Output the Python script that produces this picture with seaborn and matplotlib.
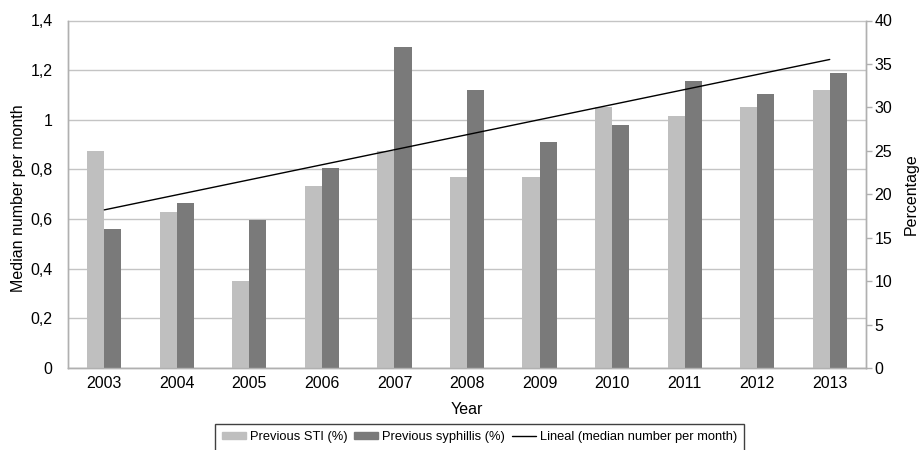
import numpy as np
import pandas as pd
import matplotlib
matplotlib.use("Agg")
import matplotlib.pyplot as plt
import seaborn as sb
from matplotlib.ticker import FuncFormatter, MultipleLocator
from matplotlib.patches import Patch, Rectangle
from matplotlib.lines import Line2D

# data
years = ['2003', '2004', '2005', '2006', '2007', '2008', '2009', '2010', '2011', '2012', '2013']
prev_sti = [25, 18, 10, 21, 25, 22, 22, 30, 29, 30, 32]
prev_syph = [16, 19, 17, 23, 37, 32, 26, 28, 33, 31.5, 34]
# linear trend of median number per month, endpoints
trend_years = ['2003', '2013']
trend_values = [0.637, 1.243]

light = '#bfbfbf'
dark = '#7a7a7a'
labels = ['Previous STI (%)', 'Previous syphillis (%)', 'Lineal (median number per month)']

sb.set_style("white")
plt.rcParams['font.family'] = ['Liberation Sans', 'DejaVu Sans']
plt.rcParams['text.color'] = 'black'
plt.rcParams['axes.labelcolor'] = 'black'
plt.rcParams['xtick.labelcolor'] = 'black'
plt.rcParams['ytick.labelcolor'] = 'black'

df = pd.DataFrame({
    'Year': years * 2,
    'Percentage': prev_sti + prev_syph,
    'Series': [labels[0]] * len(years) + [labels[1]] * len(years),
})

fig = plt.figure(figsize=(9.19, 4.5), dpi=100)
ax = fig.add_axes([68 / 919, 82 / 450, 798 / 919, 347.5 / 450])
ax2 = ax.twinx()
ax3 = ax.twinx()

#left axis: ticks and gridlines (behind the bars)
ax.set_ylim(0, 1.4)
ax.set_xlim(-0.5, len(years) - 0.5)
ax.yaxis.set_major_locator(MultipleLocator(0.2))
ax.yaxis.set_major_formatter(FuncFormatter(lambda v, p: ('%g' % round(v, 1)).replace('.', ',')))
ax.grid(axis='y', color='#c4c4c4', linewidth=1)
ax.set_ylabel('Median number per month', fontsize=11.5)
ax.yaxis.set_label_coords(-0.053, 0.49)
ax.set_xlabel('Year', fontsize=11.5, labelpad=8)
ax.set_xticks(range(len(years)))
ax.set_xticklabels(years)
ax.tick_params(axis='y', length=0, pad=11, labelsize=11.5, labelcolor='black')
ax.tick_params(axis='x', length=0, pad=6, labelsize=11.5, labelcolor='black')

#bars on the right axis
sb.barplot(data=df, x='Year', y='Percentage', hue='Series', palette=[light, dark],
           width=0.47, saturation=1, edgecolor='none', linewidth=0, ax=ax2, legend=False)
ax2.set_ylim(0, 40)
ax2.set_xlim(-0.5, len(years) - 0.5)
ax2.yaxis.set_major_locator(MultipleLocator(5))
ax2.set_ylabel('Percentage', fontsize=11.5, labelpad=8)
ax2.set_xlabel('')
ax2.tick_params(axis='y', length=4, width=1, color='#b0b0b0', pad=2, labelsize=11.5, labelcolor='black')
ax2.patch.set_visible(False)

#trend line on top, same scale as left axis
tx = [years.index(y) for y in trend_years]
sb.lineplot(x=tx, y=trend_values, color='black', linewidth=1, ax=ax3, legend=False)
ax3.set_ylim(0, 1.4)
ax3.set_xlim(-0.5, len(years) - 0.5)
ax3.axis('off')

for a in (ax, ax2):
    for s in a.spines.values():
        s.set_color('#b0b0b0')
        s.set_linewidth(1)
ax.spines['top'].set_color('#c4c4c4')
ax2.spines['top'].set_visible(False)

handles = [Patch(color=light), Patch(color=dark), Line2D([], [], color='black', linewidth=1)]
leg = fig.legend(handles, labels, loc='center', bbox_to_anchor=(479.5 / 919, 1 - 437 / 450),
                 ncol=3, fontsize=9.3, frameon=False, handlelength=1.85,
                 handleheight=0.4, handletextpad=0.3, columnspacing=0.55)
fig.add_artist(Rectangle((215 / 919, -0.05), 529 / 919, 1 - 423.5 / 450 + 0.05,
                         transform=fig.transFigure, fill=False, edgecolor='#404040', linewidth=1))

fig.savefig('out.png', dpi=100)
